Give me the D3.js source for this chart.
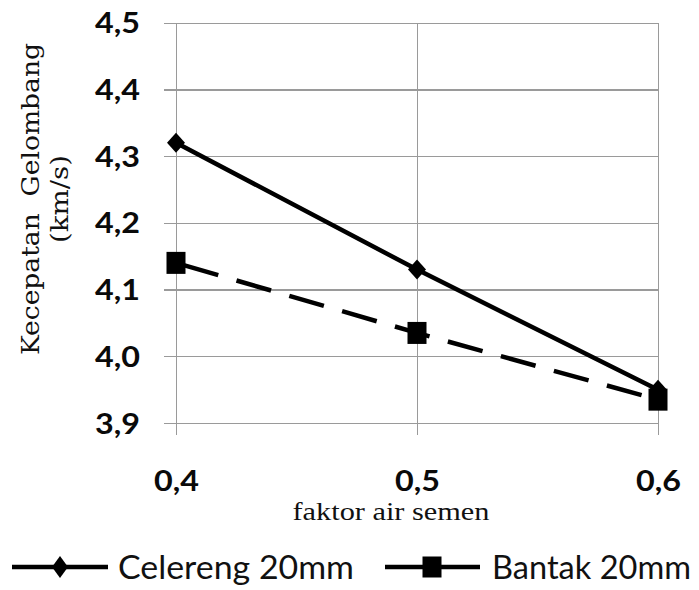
<!DOCTYPE html>
<html><head><meta charset="utf-8">
<script src="https://cdn.jsdelivr.net/npm/d3@7/dist/d3.min.js"></script>
<style>html,body{margin:0;padding:0;background:#fff;}svg{display:block;}</style>
</head><body>
<svg id="c" width="699" height="590"></svg>
<script>
const categories = [0.4, 0.5, 0.6];
const xTickLabels = ["0,4", "0,5", "0,6"];
const celereng = [4.32, 4.13, 3.95];
const bantak = [4.14, 4.035, 3.935];
const yTicks = [3.9, 4.0, 4.1, 4.2, 4.3, 4.4, 4.5];
const yTickLabels = ["3,9", "4,0", "4,1", "4,2", "4,3", "4,4", "4,5"];
const seriesNames = ["Celereng 20mm", "Bantak 20mm"];
const xTitle = "faktor air semen";
const yTitle1 = "Kecepatan  Gelombang";
const yTitle2 = "(km/s)";

const svg = d3.select("#c");
const x = d3.scalePoint().domain(categories).range([176, 658]);
const y = d3.scaleLinear().domain([3.9, 4.5]).range([423, 22.7]);
const grid = "#9a9a9a";

// horizontal gridlines + y labels
const ya = svg.append("g").attr("transform", "translate(164,0)")
  .call(d3.axisLeft(y).tickValues(yTicks).tickSize(-(658 - 164)).tickPadding(24)
    .tickFormat((d, i) => yTickLabels[i]));
ya.select(".domain").remove();
ya.selectAll(".tick line").attr("stroke", grid).attr("stroke-width", 1.3).attr("shape-rendering", "crispEdges");
ya.selectAll(".tick text").attr("font-family", "Lato, 'Open Sans', sans-serif").attr("font-weight", "bold")
  .attr("font-size", 28).attr("fill", "#0a0a0a").attr("dy", "0.36em").attr("textLength", 45).attr("lengthAdjust", "spacingAndGlyphs");

// vertical gridlines + x labels
const xa = svg.append("g").attr("transform", "translate(0,435)")
  .call(d3.axisBottom(x).tickSize(-(435 - 22.7)).tickPadding(0).tickFormat((d, i) => xTickLabels[i]));
xa.select(".domain").remove();
xa.selectAll(".tick line").attr("stroke", grid).attr("stroke-width", 1.3).attr("shape-rendering", "crispEdges");
xa.selectAll(".tick text").attr("font-family", "Lato, 'Open Sans', sans-serif").attr("font-weight", "bold")
  .attr("font-size", 28).attr("fill", "#0a0a0a").attr("y", 56).attr("dy", 0).attr("textLength", 45).attr("lengthAdjust", "spacingAndGlyphs");

// axis titles
svg.append("text").attr("x", 391).attr("y", 520).attr("text-anchor", "middle")
  .attr("font-family", "'Liberation Serif', 'DejaVu Serif', serif").attr("font-size", 25).attr("fill", "#111")
  .attr("textLength", 197).attr("lengthAdjust", "spacingAndGlyphs").text(xTitle);
svg.append("text").attr("transform", "translate(39,199) rotate(-90)").attr("text-anchor", "middle")
  .attr("font-family", "'DejaVu Serif', serif").attr("font-size", 25).attr("fill", "#111")
  .style("white-space", "pre")
  .attr("textLength", 312).attr("lengthAdjust", "spacingAndGlyphs").text(yTitle1);
svg.append("text").attr("transform", "translate(68,199) rotate(-90)").attr("text-anchor", "middle")
  .attr("font-family", "'DejaVu Serif', serif").attr("font-size", 25).attr("fill", "#111")
  .attr("textLength", 88).attr("lengthAdjust", "spacingAndGlyphs").text(yTitle2);

// series lines
const line = d3.line().x((d, i) => x(categories[i])).y(d => y(d));
svg.append("path").datum(bantak).attr("d", line).attr("fill", "none").attr("stroke", "#000")
  .attr("stroke-width", 4.5).attr("stroke-dasharray", "36,19").attr("stroke-dashoffset", -8);
svg.append("path").datum(celereng).attr("d", line).attr("fill", "none").attr("stroke", "#000").attr("stroke-width", 4.5);

function diamond(g, cx, cy, hw, hh) {
  g.append("path").attr("d", `M${cx},${cy - hh}L${cx + hw},${cy}L${cx},${cy + hh}L${cx - hw},${cy}Z`).attr("fill", "#000");
}
function square(g, cx, cy, w, h) {
  g.append("rect").attr("x", cx - w / 2).attr("y", cy - h / 2).attr("width", w).attr("height", h).attr("fill", "#000");
}
bantak.forEach((v, i) => square(svg, x(categories[i]), y(v), 19, 22));
celereng.forEach((v, i) => diamond(svg, x(categories[i]), y(v), 9, 10));

// legend
const lg = svg.append("g");
lg.append("line").attr("x1", 12).attr("x2", 108).attr("y1", 567).attr("y2", 567).attr("stroke", "#000").attr("stroke-width", 4.5);
diamond(lg, 60, 567, 8, 11);
lg.append("text").attr("x", 118).attr("y", 579).attr("font-family", "Lato, 'Open Sans', sans-serif").attr("font-size", 33)
  .attr("fill", "#111").attr("textLength", 236).attr("lengthAdjust", "spacingAndGlyphs").text(seriesNames[0]);
lg.append("line").attr("x1", 385).attr("x2", 480).attr("y1", 567).attr("y2", 567).attr("stroke", "#000").attr("stroke-width", 4.5);
square(lg, 432, 567, 19, 21);
lg.append("text").attr("x", 492).attr("y", 579).attr("font-family", "Lato, 'Open Sans', sans-serif").attr("font-size", 33)
  .attr("fill", "#111").attr("textLength", 199).attr("lengthAdjust", "spacingAndGlyphs").text(seriesNames[1]);
</script>
</body></html>
